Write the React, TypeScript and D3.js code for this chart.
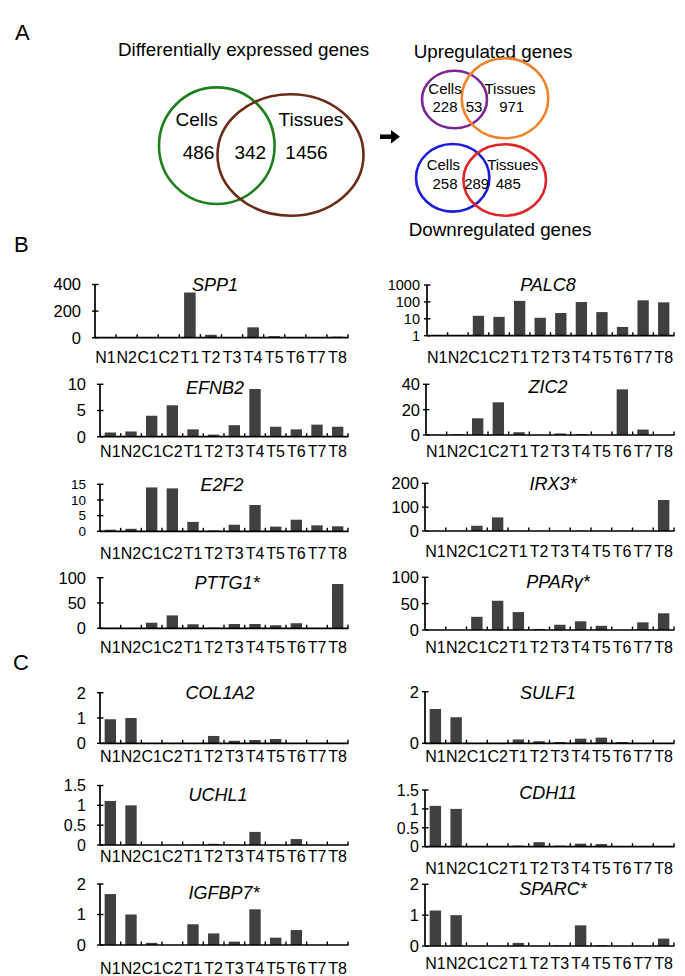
import * as d3 from 'd3';

const FONT = '"Liberation Sans", Arial, Helvetica, sans-serif';
const BAR = '#404040';

// sample order on every bar chart
const categories = ['N1', 'N2', 'C1', 'C2', 'T1', 'T2', 'T3', 'T4', 'T5', 'T6', 'T7', 'T8'];

// panel B: up-regulated genes
const spp1 = [1, 1, 0.5, 0.5, 340, 22, 0.5, 78, 12, 0.5, 0.5, 8];
const palc8 = [1, 1, 15, 13, 115, 11.5, 22, 98, 25, 3.3, 124, 94];
const efnb2 = [0.8, 1.0, 4.0, 6.0, 1.4, 0.4, 2.2, 9.1, 1.9, 1.4, 2.3, 1.9];
const zic2 = [0.2, 0.6, 13.2, 25.8, 2.2, 0.1, 1.2, 0.8, 0.1, 36, 4.3, 0.1];
const e2f2 = [0.5, 0.8, 14.0, 13.7, 3.0, 0.3, 2.1, 8.4, 1.5, 3.7, 1.9, 1.6];
const irx3 = [0.3, 0.3, 22, 57, 0.3, 0.3, 0.3, 1, 0.3, 0.3, 0.3, 130];
const pttg1 = [0.5, 0.5, 11, 25.5, 8, 1.5, 8.5, 8.5, 6, 10, 0.5, 87.5];
const pparg = [0.3, 0.3, 25, 55.5, 34, 2, 10, 16.5, 8, 0.3, 14.5, 31.7];

// panel C: down-regulated genes
const col1a2 = [0.95, 1.0, 0.01, 0.01, 0.01, 0.29, 0.1, 0.13, 0.17, 0.01, 0.01, 0.01];
const sulf1 = [1.33, 1.01, 0.005, 0.005, 0.15, 0.08, 0.05, 0.18, 0.22, 0.05, 0.005, 0.005];
const uchl1 = [1.11, 1.0, 0.005, 0.005, 0.01, 0.03, 0.01, 0.33, 0.01, 0.15, 0.005, 0.005];
const cdh11 = [1.08, 1.0, 0.005, 0.005, 0.03, 0.12, 0.03, 0.08, 0.07, 0.005, 0.005, 0.005];
const igfbp7 = [1.67, 1.0, 0.07, 0.005, 0.68, 0.38, 0.11, 1.17, 0.24, 0.49, 0.005, 0.005];
const sparc = [1.15, 1.0, 0.005, 0.005, 0.1, 0.005, 0.02, 0.67, 0.03, 0.005, 0.005, 0.24];

// y ticks
const ticksSpp1 = [0, 200, 400];
const ticksPalc8 = [1, 10, 100, 1000];
const ticksEfnb2 = [0, 5, 10];
const ticksZic2 = [0, 20, 40];
const ticksE2f2 = [0, 5, 10, 15];
const ticks200 = [0, 100, 200];
const ticks100 = [0, 50, 100];
const ticks2 = [0, 1, 2];
const ticks2b = [0, 2];
const ticks15 = [0, 0.5, 1, 1.5];

// venn counts: [cells only, both, tissues only]
const vennAll = [486, 342, 1456];
const vennUp = [228, 53, 971];
const vennDown = [258, 289, 485];

const panels = [
  { title: 'SPP1', values: spp1, ticks: ticksSpp1, log: false },
  { title: 'PALC8', values: palc8, ticks: ticksPalc8, log: true },
  { title: 'EFNB2', values: efnb2, ticks: ticksEfnb2, log: false },
  { title: 'ZIC2', values: zic2, ticks: ticksZic2, log: false },
  { title: 'E2F2', values: e2f2, ticks: ticksE2f2, log: false },
  { title: 'IRX3*', values: irx3, ticks: ticks200, log: false },
  { title: 'PTTG1*', values: pttg1, ticks: ticks100, log: false },
  { title: 'PPARγ*', values: pparg, ticks: ticks100, log: false },
  { title: 'COL1A2', values: col1a2, ticks: ticks2, log: false },
  { title: 'SULF1', values: sulf1, ticks: ticks2b, log: false },
  { title: 'UCHL1', values: uchl1, ticks: ticks15, log: false },
  { title: 'CDH11', values: cdh11, ticks: ticks15, log: false },
  { title: 'IGFBP7*', values: igfbp7, ticks: ticks2, log: false },
  { title: 'SPARC*', values: sparc, ticks: ticks2, log: false },
];

// where each small chart sits on the page
const LAYOUT = [
  { x0: 95, x1: 348, yTop: 284.5, yBase: 337.7, labelY: 357, titleX: 215, titleY: 285, gap: 14, fs: 16.5 },
  { x0: 427, x1: 674, yTop: 285, yBase: 335.7, labelY: 357, titleX: 548, titleY: 285, gap: 7, fs: 14.5 },
  { x0: 100, x1: 348, yTop: 384.3, yBase: 436.7, labelY: 451, titleX: 215, titleY: 388, gap: 14, fs: 16.5 },
  { x0: 426, x1: 674, yTop: 384.3, yBase: 435, labelY: 451.5, titleX: 548, titleY: 386.5, gap: 6, fs: 16.5 },
  { x0: 100, x1: 348, yTop: 484.3, yBase: 531.3, labelY: 553, titleX: 222, titleY: 485, gap: 14, fs: 13.5 },
  { x0: 425, x1: 674, yTop: 483.3, yBase: 531, labelY: 551.5, titleX: 553, titleY: 483.5, gap: 6, fs: 16.5 },
  { x0: 100, x1: 348, yTop: 577.7, yBase: 628.3, labelY: 647, titleX: 227, titleY: 583, gap: 14, fs: 16.5 },
  { x0: 425, x1: 674, yTop: 577.3, yBase: 630, labelY: 647, titleX: 558, titleY: 581.5, gap: 6, fs: 16.5 },
  { x0: 100, x1: 348, yTop: 692.7, yBase: 743.3, labelY: 756.7, titleX: 220, titleY: 693, gap: 14, fs: 16.5 },
  { x0: 425, x1: 674, yTop: 691.7, yBase: 743.3, labelY: 756.7, titleX: 548, titleY: 693, gap: 6, fs: 16.5 },
  { x0: 100, x1: 348, yTop: 785.5, yBase: 845, labelY: 856.7, titleX: 218, titleY: 795, gap: 14, fs: 16 },
  { x0: 425, x1: 674, yTop: 790, yBase: 846.7, labelY: 868.3, titleX: 548, titleY: 793, gap: 6, fs: 16 },
  { x0: 100, x1: 348, yTop: 884, yBase: 945, labelY: 968, titleX: 224, titleY: 893, gap: 14, fs: 16.5 },
  { x0: 425, x1: 674, yTop: 884.3, yBase: 946, labelY: 963.3, titleX: 553, titleY: 888.3, gap: 6, fs: 16.5 },
];

const fmt = (v: number) => String(v);

function BarPanel({ p, l }: { p: any; l: any }) {
  const x = d3.scaleBand<string>().domain(categories).range([l.x0, l.x1]).paddingInner(0.45).paddingOuter(0.225);
  const step = (l.x1 - l.x0) / categories.length;
  const top = p.ticks[p.ticks.length - 1];
  const y = p.log
    ? d3.scaleLog().domain([1, top]).range([l.yBase, l.yTop])
    : d3.scaleLinear().domain([0, top]).range([l.yBase, l.yTop]);
  const yv = (v: number) => (p.log ? y(Math.max(1, v)) : y(v));

  return (
    <g>
      {p.values.map((v: number, i: number) => (
        <rect key={i} x={x(categories[i])} y={yv(v)} width={x.bandwidth()} height={l.yBase - yv(v)} fill={BAR} />
      ))}
      <line x1={l.x0} x2={l.x1 + 0.5} y1={l.yBase} y2={l.yBase} stroke="#000" strokeWidth={1.7} />
      {categories.map((c, i) => (
        <line key={c} x1={l.x0 + (i + 1) * step} x2={l.x0 + (i + 1) * step} y1={l.yBase} y2={l.yBase - 3.5} stroke="#000" strokeWidth={1.4} />
      ))}
      <line x1={l.x0} x2={l.x0} y1={l.yTop} y2={l.yBase} stroke="#000" strokeWidth={1.7} />
      {p.ticks.map((t: number) => (
        <g key={t}>
          <line x1={l.x0 - 3} x2={l.x0 + 3.5} y1={y(t)} y2={y(t)} stroke="#000" strokeWidth={1.4} />
          <text x={l.x0 - l.gap} y={y(t)} dy="0.36em" textAnchor="end" fontSize={l.fs} fontFamily={FONT}>
            {fmt(t)}
          </text>
        </g>
      ))}
      {categories.map((c) => (
        <text key={c} x={(x(c) ?? 0) + x.bandwidth() / 2} y={l.labelY} dy="0.36em" textAnchor="middle" fontSize={16} fontFamily={FONT}>
          {c}
        </text>
      ))}
      <text x={l.titleX} y={l.titleY} dy="0.36em" textAnchor="middle" fontSize={18} fontStyle="italic" fontFamily={FONT}>
        {p.title}
      </text>
    </g>
  );
}

function Label({ x, y, s, size }: { x: number; y: number; s: string | number; size: number }) {
  return (
    <text x={x} y={y} dy="0.36em" textAnchor="middle" fontSize={size} fontFamily={FONT}>
      {s}
    </text>
  );
}

export default function App() {
  return (
    <svg width={685} height={976} style={{ position: 'absolute', left: 0, top: 0, background: '#fff' }}>
      <text x={15} y={40} fontSize={22} fontFamily={FONT}>A</text>
      <text x={14} y={252} fontSize={22} fontFamily={FONT}>B</text>
      <text x={13} y={670} fontSize={22} fontFamily={FONT}>C</text>

      {/* overall venn */}
      <Label x={243.6} y={49.3} s="Differentially expressed genes" size={18.8} />
      <ellipse cx={216.8} cy={145.7} rx={57.8} ry={58.3} fill="none" stroke="#1f7f1f" strokeWidth={2.6} />
      <ellipse cx={290.5} cy={155} rx={73} ry={60.7} fill="none" stroke="#6b2c16" strokeWidth={2.6} />
      <Label x={196.7} y={119.3} s="Cells" size={19} />
      <Label x={311} y={119.3} s="Tissues" size={19} />
      <Label x={198.5} y={152.2} s={vennAll[0]} size={19} />
      <Label x={250.3} y={152.2} s={vennAll[1]} size={19} />
      <Label x={306.5} y={152.2} s={vennAll[2]} size={19} />

      <path d="M380,134.5 H391 V130 L400,136.7 L391,143.4 V139 H380 Z" fill="#000" />

      {/* up-regulated */}
      <Label x={493} y={51.7} s="Upregulated genes" size={18.8} />
      <ellipse cx={454.5} cy={99.5} rx={32.5} ry={28.8} fill="none" stroke="#7b2590" strokeWidth={2.6} />
      <ellipse cx={505} cy={98.3} rx={43.3} ry={40} fill="none" stroke="#f0822a" strokeWidth={2.6} />
      <Label x={445} y={89} s="Cells" size={15} />
      <Label x={510} y={89} s="Tissues" size={15} />
      <Label x={445} y={106.7} s={vennUp[0]} size={15} />
      <Label x={474} y={106.7} s={vennUp[1]} size={15} />
      <Label x={511.7} y={106.7} s={vennUp[2]} size={15} />

      {/* down-regulated */}
      <ellipse cx={452.7} cy={177.8} rx={36.7} ry={33.8} fill="none" stroke="#1c1cdc" strokeWidth={2.6} />
      <ellipse cx={504.7} cy={180} rx={41.3} ry={35.7} fill="none" stroke="#e0252a" strokeWidth={2.6} />
      <Label x={443.3} y={165} s="Cells" size={15} />
      <Label x={512.7} y={165} s="Tissues" size={15} />
      <Label x={445} y={184} s={vennDown[0]} size={15} />
      <Label x={476.7} y={184} s={vennDown[1]} size={15} />
      <Label x={508.3} y={184} s={vennDown[2]} size={15} />
      <Label x={500} y={229.3} s="Downregulated genes" size={18.8} />

      {panels.map((p, i) => (
        <BarPanel key={p.title} p={p} l={LAYOUT[i]} />
      ))}
    </svg>
  );
}
